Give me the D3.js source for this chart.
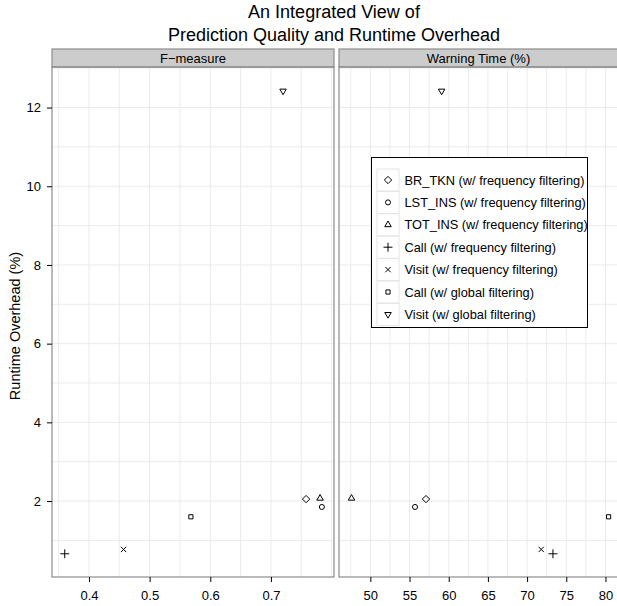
<!DOCTYPE html>
<html>
<head>
<meta charset="utf-8">
<script src="https://cdn.jsdelivr.net/npm/d3@7"></script>
<style>
  body { margin: 0; background: #fff; }
  svg { font-family: "Liberation Sans", Arial, sans-serif; }
</style>
</head>
<body>
<svg id="chart" width="617" height="606"></svg>
<script>
'use strict';

// series, in legend order
const seriesNames = [
    'BR_TKN (w/ frequency filtering)',
    'LST_INS (w/ frequency filtering)',
    'TOT_INS (w/ frequency filtering)',
    'Call (w/ frequency filtering)',
    'Visit (w/ frequency filtering)',
    'Call (w/ global filtering)',
    'Visit (w/ global filtering)'
];
const seriesShapes = ['diamond', 'circle', 'triangle', 'plus', 'times', 'square', 'triangleDown'];
const fMeasure = [0.758, 0.784, 0.781, 0.360, 0.457, 0.568, 0.720];
const warningTime = [57.1, 55.7, 47.6, 73.3, 71.8, 80.4, 59.1];
const overhead = [2.05, 1.85, 2.07, 0.66, 0.77, 1.60, 12.42];

const panelTitles = ['F\u2212measure', 'Warning Time (%)'];
const fTicks = [0.4, 0.5, 0.6, 0.7];
const wTicks = [50, 55, 60, 65, 70, 75, 80];
const yTicks = [2, 4, 6, 8, 10, 12];

const TOP = 67, BOTTOM = 577, STRIP_H = 18;
const panels = [
    {left: 52, right: 334, domain: [0.339, 0.804], ticks: fTicks, grid: 0.05, values: fMeasure, fmt: d3.format('.1f')},
    {left: 339, right: 618, domain: [46.0, 81.6], ticks: wTicks, grid: 2.5, values: warningTime, fmt: d3.format('d')}
];

const svg = d3.select('#chart');

const y = d3.scaleLinear().domain([0.07, 13.03]).range([BOTTOM, TOP]);

const symbolTypes = {
    diamond: d3.symbolDiamond2,
    circle: d3.symbolCircle,
    triangle: d3.symbolTriangle2,
    plus: d3.symbolPlus,
    times: d3.symbolTimes,
    square: d3.symbolSquare2,
    triangleDown: d3.symbolTriangle2
};
const symbolSizes = {diamond: 34, circle: 20, triangle: 30, plus: 28, times: 20, square: 22, triangleDown: 30};

function drawSymbol(g, shape, cx, cy) {
    g.append('path')
        .attr('d', d3.symbol(symbolTypes[shape], symbolSizes[shape])())
        .attr('transform', `translate(${cx},${cy})` + (shape === 'triangleDown' ? ' rotate(180)' : ''))
        .attr('fill', 'none')
        .attr('stroke', '#000')
        .attr('stroke-width', 1);
}

// title
svg.append('text')
    .attr('x', 334).attr('y', 18)
    .attr('text-anchor', 'middle')
    .attr('font-size', 18)
    .text('An Integrated View of');
svg.append('text')
    .attr('x', 334).attr('y', 41)
    .attr('text-anchor', 'middle')
    .attr('font-size', 18)
    .text('Prediction Quality and Runtime Overhead');

panels.forEach((p, i) => {
    const x = d3.scaleLinear().domain(p.domain).range([p.left, p.right]);
    const g = svg.append('g');

    // grid
    const vgrid = d3.range(Math.ceil(p.domain[0] / p.grid) * p.grid, p.domain[1], p.grid);
    g.selectAll('.vgrid')
        .data(vgrid)
        .enter().append('line')
        .attr('x1', d => x(d)).attr('x2', d => x(d))
        .attr('y1', TOP).attr('y2', BOTTOM)
        .attr('stroke', '#ebebeb');
    g.selectAll('.hgrid')
        .data(d3.range(1, 14))
        .enter().append('line')
        .attr('x1', p.left).attr('x2', p.right)
        .attr('y1', d => y(d)).attr('y2', d => y(d))
        .attr('stroke', '#ebebeb');

    // strip
    g.append('rect')
        .attr('x', p.left).attr('y', TOP - STRIP_H)
        .attr('width', p.right - p.left).attr('height', STRIP_H)
        .attr('fill', '#cccccc').attr('stroke', '#8c8c8c').attr('stroke-width', 1.2);
    g.append('text')
        .attr('x', (p.left + p.right) / 2).attr('y', TOP - 4.5)
        .attr('text-anchor', 'middle')
        .attr('font-size', 13)
        .text(panelTitles[i]);

    // panel frame
    g.append('rect')
        .attr('x', p.left).attr('y', TOP)
        .attr('width', p.right - p.left).attr('height', BOTTOM - TOP)
        .attr('fill', 'none').attr('stroke', '#8c8c8c').attr('stroke-width', 1.2);

    // x axis
    const xAxis = d3.axisBottom(x).tickValues(p.ticks).tickFormat(p.fmt).tickSize(5).tickSizeOuter(0).tickPadding(9);
    const gx = g.append('g').attr('transform', `translate(0,${BOTTOM})`).call(xAxis);
    gx.select('.domain').remove();
    gx.selectAll('text').attr('font-size', 13).attr('font-family', null).attr('fill', '#000');
    gx.selectAll('line').attr('stroke', '#000');

    // points
    seriesShapes.forEach((shape, k) => drawSymbol(g, shape, x(p.values[k]), y(overhead[k])));
});

// y axis
const yAxis = d3.axisLeft(y).tickValues(yTicks).tickSize(5).tickSizeOuter(0).tickPadding(6);
const gy = svg.append('g').attr('transform', `translate(${panels[0].left},0)`).call(yAxis);
gy.select('.domain').remove();
gy.selectAll('text').attr('font-size', 13).attr('font-family', null).attr('fill', '#000');
gy.selectAll('line').attr('stroke', '#000');

svg.append('text')
    .attr('transform', `translate(20,${(TOP + BOTTOM) / 2 + 4}) rotate(-90)`)
    .attr('text-anchor', 'middle')
    .attr('font-size', 14.5)
    .text('Runtime Overhead (%)');

// legend
const LEG_X = 371.5, LEG_Y = 157.5, LEG_W = 216, LEG_H = 170, ROW = 22.4;
const legend = svg.append('g');
legend.append('rect')
    .attr('x', LEG_X).attr('y', LEG_Y)
    .attr('width', LEG_W).attr('height', LEG_H)
    .attr('fill', '#fff').attr('stroke', '#000').attr('stroke-width', 1);

seriesNames.forEach((name, k) => {
    const cy = LEG_Y + 22.5 + k * ROW;
    legend.append('rect')
        .attr('x', LEG_X + 5.5).attr('y', cy - 11)
        .attr('width', 22).attr('height', 22)
        .attr('fill', 'none').attr('stroke', '#e6e6e6');
    drawSymbol(legend, seriesShapes[k], LEG_X + 16.5, cy);
    legend.append('text')
        .attr('x', LEG_X + 33).attr('y', cy + 4.5)
        .attr('font-size', 12.8)
        .text(name);
});
</script>
</body>
</html>
